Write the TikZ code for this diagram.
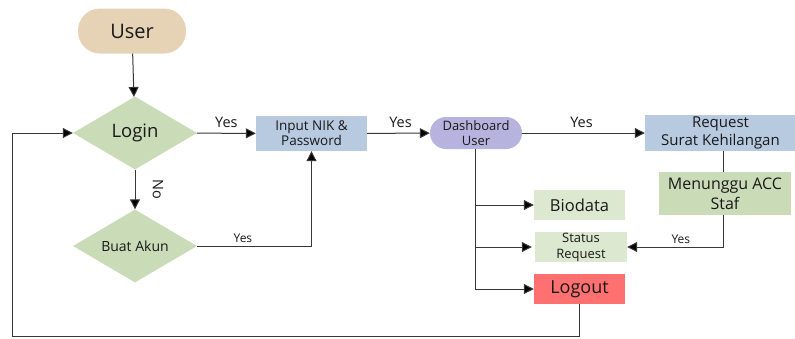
\documentclass[tikz,border=0pt]{standalone}
\usepackage{fontspec}
\setmainfont{Open Sans}
\usetikzlibrary{shapes.geometric,arrows.meta}
\definecolor{tanfill}{RGB}{230,211,181}
\definecolor{sage}{RGB}{202,219,183}
\definecolor{sagelight}{RGB}{220,232,207}
\definecolor{steel}{RGB}{184,202,224}
\definecolor{lav}{RGB}{182,180,222}
\definecolor{redbox}{RGB}{255,112,112}
\definecolor{linec}{RGB}{55,55,55}
\definecolor{txt}{RGB}{25,25,25}
\newcommand{\fsz}[1]{\fontsize{#1}{#1}\selectfont}
\tikzset{
  x=1pt, y=-1pt,
  every node/.style={text=txt, inner sep=0pt, align=center},
  decision/.style={diamond, fill=sage, minimum width=124pt, minimum height=73pt, aspect=1.7},
  boxed/.style={rectangle, fill=#1},
  link/.style={draw=linec, line width=1pt},
  arr/.style={link, -{Triangle[length=10pt,width=10pt,fill=black]}},
  lbl/.style={font=\fsz{14.5}},
  slbl/.style={font=\fsz{12}},
}
\begin{document}
\begin{tikzpicture}
\useasboundingbox (0,0) rectangle (795,338);
% start terminal
\node[rectangle, rounded corners=22pt, fill=tanfill, minimum width=108pt, minimum height=45pt,
      font=\fsz{20}] (user) at (132,31) {User};
% decisions
\node[decision, font=\fsz{18.5}] (login) at (135,133) {Login};
\node[decision, font=\fsz{14}] (buat) at (135,246) {Buat Akun};
% process boxes
\node[boxed=steel, minimum width=111pt, minimum height=35pt,
      font=\fontsize{13.5}{15}\selectfont] (input) at (311.5,133.5) {Input NIK \&\\Password};
\node[rectangle, rounded corners=16pt, fill=lav, minimum width=92pt, minimum height=32pt,
      font=\fontsize{13}{15}\selectfont] (dash) at (476,133) {Dashboard\\User};
\node[boxed=steel, minimum width=151pt, minimum height=36pt,
      font=\fontsize{15}{17.5}\selectfont] (req) at (720.5,133) {Request\\Surat Kehilangan};
\node[boxed=sage, minimum width=132pt, minimum height=43pt,
      font=\fontsize{16}{20}\selectfont] (wait) at (725,193.5) {Menunggu ACC\\Staf};
\node[boxed=sagelight, minimum width=91pt, minimum height=30pt,
      font=\fsz{16.5}] (bio) at (579.5,205) {Biodata};
\node[boxed=sagelight, minimum width=92pt, minimum height=30pt,
      font=\fontsize{13}{16}\selectfont] (status) at (581,247) {Status\\Request};
\node[boxed=redbox, minimum width=91pt, minimum height=30pt,
      font=\fsz{18}] (logout) at (579.5,289) {Logout};
% loop-back corners
\coordinate (lb) at (579.5,336);
\coordinate (ll) at (12,336);
\coordinate (lt) at (12,133);
\coordinate (trunk) at (475,289);

% connectors
\draw[arr] (user) -- (login);
\draw[arr] (login) -- node[xshift=23pt, rotate=-90, lbl] {No} (buat);
\draw[arr] (login) -- node[above=5pt, lbl] {Yes} (input);
\draw[arr] (buat.east) -| node[pos=0.2, above=3pt, slbl] {Yes} (input.south);
\draw[arr] (input) -- node[above=5pt, xshift=2pt, lbl] {Yes} (dash);
\draw[arr] (dash) -- node[above=5pt, xshift=-2pt, lbl] {Yes} (req);
\draw[link] (req.south -| wait.north) ++(-2,0) -- ++(0,21);
\draw[arr] ([xshift=-2pt]wait.south) |- node[pos=0.72, above=3pt, slbl] {Yes} (status.east);
\draw[link] (dash.south -| trunk) -- (trunk);
\draw[arr] (bio.west -| trunk) -- (bio.west);
\draw[arr] (status.west -| trunk) -- ([xshift=-3pt]status.west);
\draw[arr] (trunk) -- (logout.west);
\draw[arr] (logout.south) -- (lb) -- (ll) -- (lt) -- (login.west);
\end{tikzpicture}
\end{document}
